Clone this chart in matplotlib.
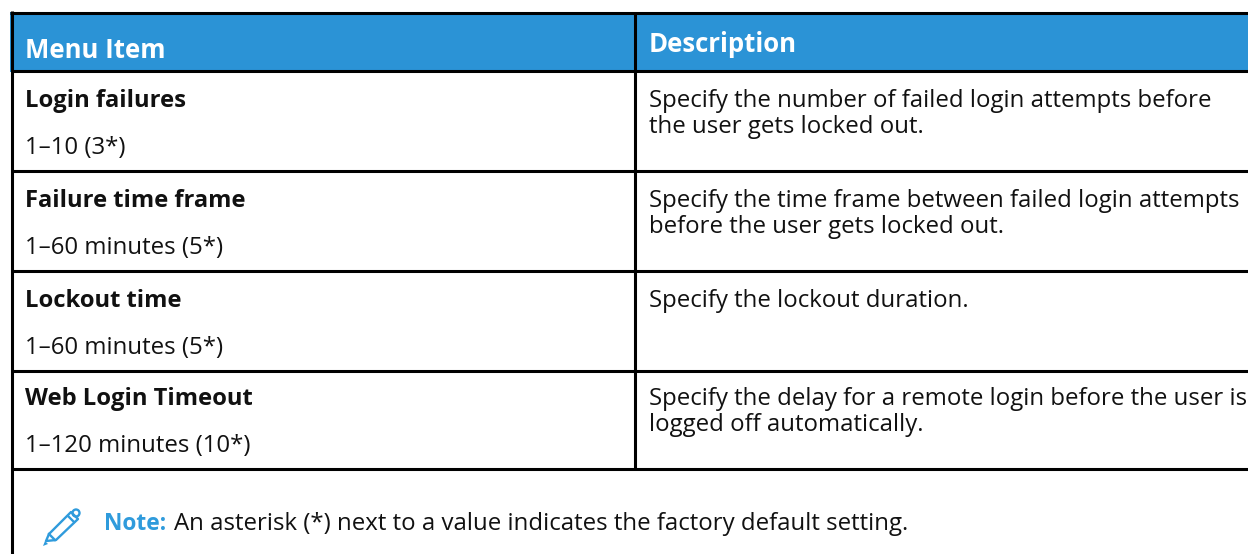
import matplotlib
matplotlib.use("Agg")
import matplotlib.pyplot as plt
from matplotlib.patches import Rectangle, Polygon, Circle

headers = ["Menu Item", "Description"]
items = ["Login failures", "Failure time frame", "Lockout time", "Web Login Timeout"]
ranges = ["1–10 (3*)", "1–60 minutes (5*)", "1–60 minutes (5*)", "1–120 minutes (10*)"]
descriptions = [
    "Specify the number of failed login attempts before\nthe user gets locked out.",
    "Specify the time frame between failed login attempts\nbefore the user gets locked out.",
    "Specify the lockout duration.",
    "Specify the delay for a remote login before the user is\nlogged off automatically.",
]
note_label = "Note:"
note_text = "An asterisk (*) next to a value indicates the factory default setting."

plt.rcParams['font.family'] = ['Open Sans', 'DejaVu Sans']
blue = "#2b93d6"
note_blue = "#2f9bdc"
ink = "#111111"
fs = 17.3

fig = plt.figure(figsize=(12.48, 5.54), dpi=100)
ax = fig.add_axes([0, 0, 1, 1])
ax.set_xlim(0, 1248)
ax.set_ylim(554, 0)
ax.axis("off")

# header band
ax.add_patch(Rectangle((9.5, 12), 1238.5, 60, fc=blue, ec="none"))

# grid lines
row_lines = [71.3, 171.3, 271, 370.5, 469.3]
lw = 2.2
ax.plot([10, 1248], [12.5, 12.5], color="black", lw=lw, solid_capstyle="butt")
for y in row_lines:
    ax.plot([11, 1248], [y, y], color="black", lw=lw, solid_capstyle="butt")
ax.plot([11.5, 11.5], [11, 554], color="black", lw=lw, solid_capstyle="butt")
ax.plot([635, 635], [12, 469], color="black", lw=lw, solid_capstyle="butt")

# header text
ax.text(25, 48, headers[0], color="white", fontsize=18.5, fontweight="bold", va="center_baseline")
ax.text(649, 42, headers[1], color="white", fontsize=18.5, fontweight="bold", va="center_baseline")

# rows
tops = [71, 171, 271, 369]
for i in range(len(items)):
    t = tops[i]
    ax.text(25, t + 27, items[i], color=ink, fontsize=fs - 0.2, fontweight="bold", va="center_baseline")
    ax.text(25, t + 74, ranges[i], color=ink, fontsize=fs, va="center_baseline")
    ax.text(649, t + 27, descriptions[i].split("\n")[0], color=ink, fontsize=fs, va="center_baseline")
    if "\n" in descriptions[i]:
        ax.text(649, t + 53, descriptions[i].split("\n")[1], color=ink, fontsize=fs, va="center_baseline")

# note
ax.text(104, 520.5, note_label, color=note_blue, fontsize=16.4, fontweight="bold", va="center_baseline")
ax.text(174, 520.5, note_text, color=ink, fontsize=fs, va="center_baseline")

# pencil icon
ax.add_patch(Polygon([[46, 541], [49, 534], [71, 512], [78, 519], [56, 540]], closed=True,
                     fc="none", ec=note_blue, lw=1.7, joinstyle="round"))
ax.plot([49, 55], [534, 540], color=note_blue, lw=1.7)
ax.plot([68, 74], [516, 522], color=note_blue, lw=1.7)
ax.add_patch(Circle((76, 513), 3.5, fc="none", ec=note_blue, lw=1.7))
ax.add_patch(Polygon([[43, 546], [45, 541], [48, 544]], closed=True, fc=note_blue, ec="none"))

fig.savefig("out.png", dpi=100)
